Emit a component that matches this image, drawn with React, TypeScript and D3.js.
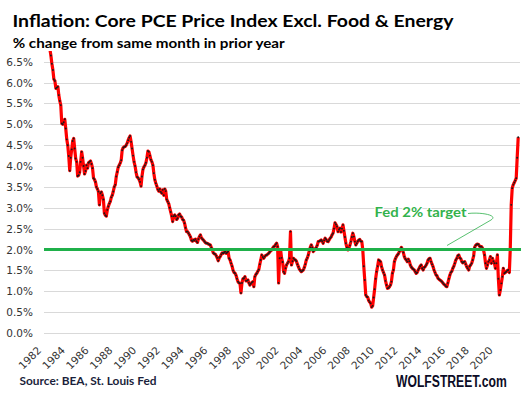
import React, { useEffect, useRef } from 'react';
import * as d3 from 'd3';

// Core PCE ex food & energy, % change y/y, monthly, Jan 1982 - Nov 2021
const pce1980s = [
  7.6, 7.5, 7.4, 7.2, 7.0, 6.8, 6.65, 6.45, 6.3, 6.08, 6.04, 5.86, // 1982
  5.88, 5.9, 5.7, 5.56, 5.46, 5.02, 5.0, 5.05, 5.12, 4.9, 4.64, 4.5, // 1983
  4.24, 3.89, 4.2, 4.4, 4.6, 4.66, 4.42, 4.18, 4.1, 3.76, 3.78, 3.85, // 1984
  4.1, 4.34, 4.2, 4.0, 3.81, 3.88, 4.02, 3.95, 4.08, 4.1, 4.12, 4.05, // 1985
  3.95, 3.71, 3.68, 3.62, 3.5, 3.45, 3.39, 3.07, 3.35, 3.38, 3.3, 3.2, // 1986
  2.87, 2.82, 2.8, 2.95, 3.03, 3.1, 3.15, 3.25, 3.3, 3.39, 3.5, 3.55, // 1987
  3.75, 3.86, 3.97, 4.02, 4.07, 4.14, 4.38, 4.44, 4.46, 4.47, 4.5, 4.55, // 1988
  4.62, 4.68, 4.72, 4.58, 4.42, 4.25, 4.1, 4.0, 3.85, 3.74, 3.72, 3.68, // 1989
];
const pce1990s = [
  3.62, 3.52, 3.75, 3.92, 3.98, 4.02, 4.08, 4.2, 4.36, 4.34, 4.25, 4.15, // 1990
  4.1, 4.02, 3.83, 3.67, 3.59, 3.52, 3.44, 3.4, 3.45, 3.38, 3.35, 3.43, // 1991
  3.3, 3.45, 3.4, 3.2, 3.15, 3.1, 3.0, 2.9, 2.8, 2.67, 2.8, 2.83, // 1992
  2.8, 2.72, 2.75, 2.83, 2.85, 2.8, 2.78, 2.72, 2.7, 2.63, 2.52, 2.43, // 1993
  2.43, 2.39, 2.35, 2.3, 2.22, 2.2, 2.23, 2.22, 2.25, 2.2, 2.17, 2.25, // 1994
  2.31, 2.35, 2.28, 2.25, 2.23, 2.2, 2.17, 2.15, 2.15, 2.13, 2.12, 2.11, // 1995
  2.05, 2.0, 1.92, 1.9, 1.89, 1.85, 1.8, 1.73, 1.8, 1.83, 1.88, 1.92, // 1996
  1.91, 1.93, 1.95, 1.91, 1.93, 1.95, 1.79, 1.75, 1.67, 1.6, 1.5, 1.45, // 1997
  1.43, 1.38, 1.3, 1.23, 1.2, 1.19, 0.96, 1.2, 1.3, 1.31, 1.35, 1.25, // 1998
  1.25, 1.27, 1.2, 1.15, 1.18, 1.21, 1.23, 1.11, 1.35, 1.4, 1.43, 1.48, // 1999
];
const pce2000s = [
  1.52, 1.65, 1.75, 1.87, 1.82, 1.79, 1.83, 1.86, 1.87, 1.89, 1.91, 1.94, // 2000
  1.97, 1.99, 2.03, 2.07, 2.08, 2.12, 2.15, 2.07, 1.2, 1.79, 1.99, 1.8, // 2001
  1.7, 1.47, 1.43, 1.55, 1.63, 1.67, 1.71, 1.79, 2.43, 1.63, 1.72, 1.79, // 2002
  1.76, 1.75, 1.72, 1.65, 1.59, 1.53, 1.5, 1.47, 1.49, 1.51, 1.57, 1.65, // 2003
  1.75, 1.8, 1.87, 1.97, 2.05, 2.11, 2.05, 1.95, 1.98, 2.02, 2.05, 2.1, // 2004
  2.19, 2.2, 2.21, 2.23, 2.2, 2.15, 2.22, 2.27, 2.24, 2.2, 2.19, 2.23, // 2005
  2.27, 2.3, 2.35, 2.39, 2.5, 2.64, 2.6, 2.55, 2.43, 2.48, 2.51, 2.42, // 2006
  2.5, 2.59, 2.45, 2.3, 2.15, 2.05, 1.99, 2.03, 2.1, 2.19, 2.3, 2.39, // 2007
  2.31, 2.19, 2.11, 2.15, 2.2, 2.23, 2.24, 2.2, 2.19, 2.0, 1.6, 1.27, // 2008
  0.91, 0.87, 0.86, 0.78, 0.74, 0.71, 0.62, 0.65, 0.85, 1.05, 1.3, 1.47, // 2009
];
const pce2010s = [
  1.6, 1.75, 1.73, 1.71, 1.59, 1.51, 1.45, 1.39, 1.25, 1.15, 1.07, 1.08, // 2010
  1.11, 1.15, 1.23, 1.43, 1.51, 1.71, 1.78, 1.83, 1.87, 1.9, 1.95, 2.0, // 2011
  2.05, 2.0, 1.93, 1.83, 1.78, 1.75, 1.71, 1.77, 1.72, 1.63, 1.58, 1.55, // 2012
  1.53, 1.51, 1.47, 1.43, 1.45, 1.51, 1.55, 1.6, 1.63, 1.55, 1.51, 1.57, // 2013
  1.59, 1.63, 1.67, 1.75, 1.78, 1.79, 1.71, 1.65, 1.59, 1.51, 1.45, 1.39, // 2014
  1.37, 1.31, 1.29, 1.27, 1.25, 1.23, 1.2, 1.17, 1.15, 1.12, 1.11, 1.2, // 2015
  1.3, 1.39, 1.45, 1.48, 1.55, 1.6, 1.67, 1.75, 1.79, 1.85, 1.87, 1.8, // 2016
  1.78, 1.71, 1.68, 1.7, 1.71, 1.65, 1.59, 1.55, 1.51, 1.6, 1.63, 1.67, // 2017
  1.75, 1.85, 2.05, 2.1, 2.12, 2.13, 2.12, 2.08, 2.07, 2.07, 2.03, 1.99, // 2018
  1.87, 1.67, 1.55, 1.63, 1.71, 1.75, 1.83, 1.67, 1.79, 1.72, 1.67, 1.55, // 2019
];
const pce2020s = [
  1.67, 1.87, 1.3, 0.91, 1.03, 1.19, 1.35, 1.55, 1.43, 1.45, 1.47, 1.5, // 2020
  1.51, 1.45, 1.99, 3.07, 3.47, 3.55, 3.6, 3.65, 3.71, 4.2, 4.69, // 2021
];

const yTicks = d3.range(0, 6.51, 0.5);
const xTickYears = d3.range(1982, 2021, 2);
const fedTarget = 2.0;

const App = () => {
  const chartRef = useRef<SVGSVGElement>(null);

  useEffect(() => {
    document.body.style.margin = '0';
    if (!chartRef.current) return;

    const values = [...pce1980s, ...pce1990s, ...pce2000s, ...pce2010s, ...pce2020s];
    const data = values.map((v, i) => ({ date: new Date(1982, i, 1), value: v }));

    const svg = d3.select(chartRef.current).html('');

    const xScale = d3.scaleTime()
      .domain([new Date(1982, 0, 1), new Date(2021, 10, 1)])
      .range([45, 518.2]);

    const yScale = d3.scaleLinear()
      .domain([0, 6.5])
      .range([333, 61.7]);

    // gridlines
    svg.append('g')
      .selectAll('line')
      .data(yTicks)
      .enter().append('line')
      .attr('x1', 44)
      .attr('x2', 520)
      .attr('y1', d => Math.round(yScale(d)) + 0.5)
      .attr('y2', d => Math.round(yScale(d)) + 0.5)
      .attr('stroke', '#d9d9d9')
      .attr('stroke-width', 1);

    // y tick labels
    svg.append('g')
      .selectAll('text')
      .data(yTicks)
      .enter().append('text')
      .attr('x', 33)
      .attr('y', d => yScale(d) + 1)
      .attr('dominant-baseline', 'middle')
      .attr('text-anchor', 'end')
      .attr('font-family', '"DejaVu Sans", Verdana, sans-serif')
      .attr('font-size', '10.5px')
      .attr('fill', '#333')
      .text(d => d3.format('.1f')(d) + '%');

    // x tick labels, rotated
    svg.append('g')
      .selectAll('text')
      .data(xTickYears)
      .enter().append('text')
      .attr('transform', d => `translate(${xScale(new Date(d, 0, 1)) - 3},351) rotate(-45)`)
      .attr('text-anchor', 'end')
      .attr('font-family', '"DejaVu Sans", Verdana, sans-serif')
      .attr('font-size', '10.5px')
      .attr('fill', '#333')
      .text(d => d);

    // clip for the series
    svg.append('defs').append('clipPath')
      .attr('id', 'plot-clip')
      .append('rect')
      .attr('x', 40).attr('y', 51).attr('width', 481).attr('height', 290);

    const line = d3.line<{ date: Date; value: number }>()
      .x(d => xScale(d.date))
      .y(d => yScale(d.value));

    const series = svg.append('g').attr('clip-path', 'url(#plot-clip)');

    series.append('path')
      .datum(data)
      .attr('d', line)
      .attr('fill', 'none')
      .attr('stroke', '#ff0000')
      .attr('stroke-width', 3.2)
      .attr('stroke-linejoin', 'round');

    series.selectAll('circle')
      .data(data)
      .enter().append('circle')
      .attr('cx', d => xScale(d.date))
      .attr('cy', d => yScale(d.value))
      .attr('r', 0.95)
      .attr('fill', '#1a1a1a');

    // Fed 2% target line
    svg.append('line')
      .attr('x1', 44)
      .attr('x2', 521)
      .attr('y1', yScale(fedTarget))
      .attr('y2', yScale(fedTarget))
      .attr('stroke', '#1fb04a')
      .attr('stroke-width', 3);

    // annotation
    svg.append('path')
      .attr('d', 'M468,213.5 C480,212 499,215 491,220 L447,245.5')
      .attr('fill', 'none')
      .attr('stroke', '#2db04b')
      .attr('stroke-width', 0.8);

    svg.append('text')
      .attr('x', 374.5)
      .attr('y', 217)
      .attr('font-family', 'Lato, "Open Sans", sans-serif')
      .attr('font-weight', 'bold')
      .attr('font-size', '13px')
      .attr('fill', '#33b24c')
      .attr('stroke', '#ffffff')
      .attr('stroke-width', 2)
      .attr('paint-order', 'stroke')
      .attr('textLength', 92)
      .attr('lengthAdjust', 'spacingAndGlyphs')
      .text('Fed 2% target');

    // titles
    svg.append('text')
      .attr('x', 12.5)
      .attr('y', 26.5)
      .attr('font-family', 'Lato, "Open Sans", sans-serif')
      .attr('font-weight', 'bold')
      .attr('font-size', '17.5px')
      .attr('fill', '#000')
      .attr('textLength', 441)
      .attr('lengthAdjust', 'spacingAndGlyphs')
      .text('Inflation: Core PCE Price Index Excl. Food & Energy');

    svg.append('text')
      .attr('x', 12.7)
      .attr('y', 47.5)
      .attr('font-family', 'Lato, "Open Sans", sans-serif')
      .attr('font-weight', 'bold')
      .attr('font-size', '13px')
      .attr('fill', '#000')
      .attr('textLength', 272)
      .attr('lengthAdjust', 'spacingAndGlyphs')
      .text('% change from same month in prior year');

    svg.append('text')
      .attr('x', 19.5)
      .attr('y', 385)
      .attr('font-family', 'Lato, "Open Sans", sans-serif')
      .attr('font-weight', 'bold')
      .attr('font-size', '11px')
      .attr('fill', '#1b1f3b')
      .attr('textLength', 137)
      .attr('lengthAdjust', 'spacingAndGlyphs')
      .text('Source: BEA, St. Louis Fed');

    // condensed brand mark: scale horizontally instead of forcing textLength
    svg.append('text')
      .attr('transform', 'translate(396,386.5) scale(0.76,1)')
      .attr('font-family', '"Liberation Sans", Arial, sans-serif')
      .attr('font-weight', 'bold')
      .attr('font-size', '16px')
      .attr('fill', '#0c0c26')
      .text('WOLFSTREET.com');
  }, []);

  return (
    <div style={{ width: 521, height: 398, background: '#fff' }}>
      <svg ref={chartRef} width={521} height={398} style={{ display: 'block' }}></svg>
    </div>
  );
};

export default App;
